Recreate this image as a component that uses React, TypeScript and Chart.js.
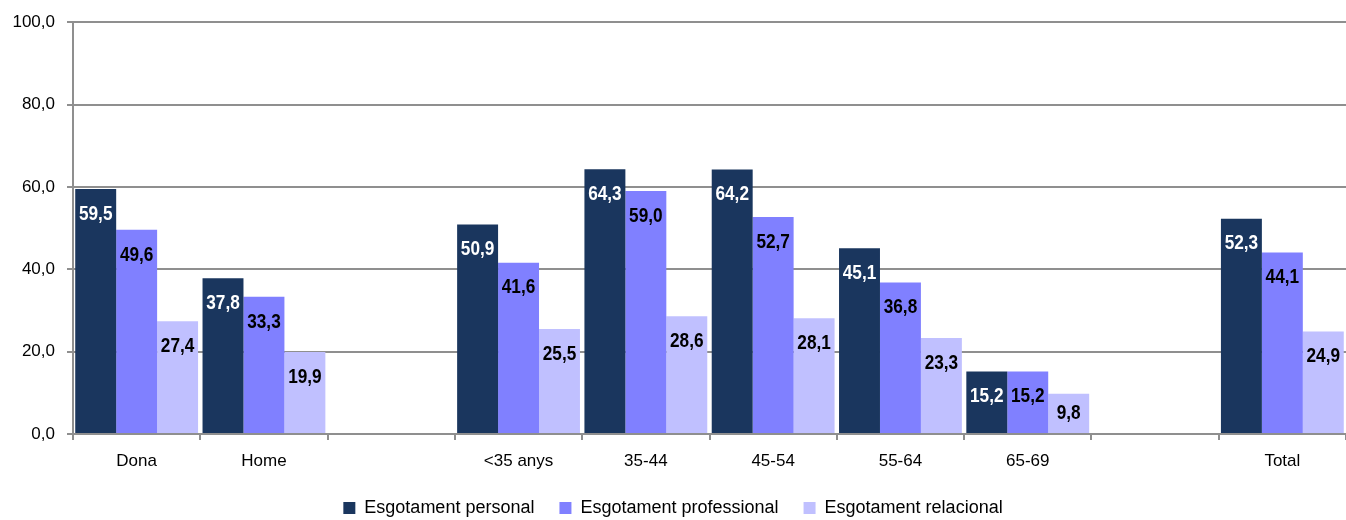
import React, { useEffect, useRef } from 'react';
import { Chart, registerables } from 'chart.js';

Chart.register(...registerables);

const categories = ['Dona', 'Home', '', '<35 anys', '35-44', '45-54', '55-64', '65-69', '', 'Total'];
const personal = [59.5, 37.8, null, 50.9, 64.3, 64.2, 45.1, 15.2, null, 52.3];
const professional = [49.6, 33.3, null, 41.6, 59.0, 52.7, 36.8, 15.2, null, 44.1];
const relacional = [27.4, 19.9, null, 25.5, 28.6, 28.1, 23.3, 9.8, null, 24.9];
const seriesNames = ['Esgotament personal', 'Esgotament professional', 'Esgotament relacional'];
const seriesColors = ['#1a365e', '#8080ff', '#c0c0ff'];
const labelColors = ['#ffffff', '#000000', '#000000'];
const yMin = 0;
const yMax = 100;
const yStep = 20;

const FONT = '"Liberation Sans Narrow", "Arial Narrow", "Liberation Sans", Arial, sans-serif';
const fmt = (v: number) => v.toFixed(1).replace('.', ',');

const valueLabels = {
  id: 'valueLabels',
  afterDatasetsDraw(chart: any) {
    const ctx = chart.ctx;
    chart.data.datasets.forEach((ds: any, di: number) => {
      const meta = chart.getDatasetMeta(di);
      meta.data.forEach((bar: any, i: number) => {
        const v = ds.data[i];
        if (v == null) return;
        const { x, y, base } = bar.getProps(['x', 'y', 'base'], true);
        const ty = Math.min(y + 25, (y + base) / 2);
        ctx.save();
        ctx.font = `bold 21px ${FONT}`;
        ctx.textAlign = 'center';
        ctx.textBaseline = 'middle';
        ctx.fillStyle = labelColors[di];
        ctx.translate(x, ty);
        ctx.scale(0.82, 1);
        ctx.fillText(fmt(v), 0, 0);
        ctx.restore();
      });
    });
  },
};

export default function App() {
  const ref = useRef<HTMLCanvasElement>(null);
  useEffect(() => {
    document.body.style.margin = '0';
    const series = [personal, professional, relacional];
    const chart = new Chart(ref.current as HTMLCanvasElement, {
      type: 'bar',
      data: {
        labels: categories,
        datasets: series.map((d, i) => ({
          label: seriesNames[i],
          data: d,
          backgroundColor: seriesColors[i],
          borderWidth: 0,
          categoryPercentage: 0.965,
          barPercentage: 1,
        })),
      },
      options: {
        responsive: false,
        animation: false,
        layout: { padding: { top: 22, right: 0, left: 0, bottom: -7 } },
        plugins: {
          tooltip: { enabled: false },
          legend: {
            position: 'bottom',
            labels: {
              boxWidth: 12,
              boxHeight: 12,
              padding: 25,
              color: '#000',
              font: { family: FONT, size: 18 },
            },
          },
        },
        scales: {
          x: {
            grid: {
              drawOnChartArea: false,
              drawTicks: true,
              tickLength: 6,
              color: '#8f8f8f',
              lineWidth: 2,
              offset: true,
            },
            border: { color: '#8f8f8f', width: 2 },
            ticks: {
              color: '#000',
              font: { family: FONT, size: 17 },
              padding: 11,
              autoSkip: false,
              maxRotation: 0,
            },
            afterFit: (s: any) => { s.height = 40; },
          },
          y: {
            min: yMin,
            max: yMax,
            grid: { color: '#8f8f8f', lineWidth: 2, tickLength: 6 },
            border: { color: '#8f8f8f', width: 2 },
            ticks: {
              stepSize: yStep,
              color: '#000',
              padding: 12,
              font: { family: FONT, size: 17 },
              callback: (v: any) => fmt(Number(v)),
            },
            afterFit: (s: any) => { s.width = 73; },
          },
        },
      },
      plugins: [valueLabels],
    });
    return () => chart.destroy();
  }, []);
  return (
    <div style={{ width: 1346, height: 520 }}>
      <canvas ref={ref} width={1346} height={520} />
    </div>
  );
}
